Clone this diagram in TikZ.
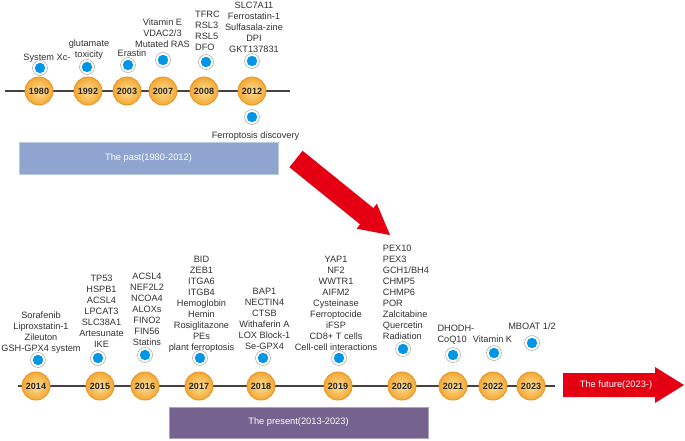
\documentclass[tikz,border=0pt]{standalone}
\usepackage{fontspec}
\setmainfont{Liberation Sans}
\definecolor{circin}{RGB}{253,222,150}
\definecolor{circout}{RGB}{243,168,52}
\definecolor{circedge}{RGB}{232,150,40}
\definecolor{dotblue}{RGB}{0,150,230}
\definecolor{textgray}{RGB}{50,50,50}
\definecolor{linegray}{RGB}{70,65,65}
\definecolor{pastblue}{RGB}{143,165,208}
\definecolor{presentpurple}{RGB}{118,98,143}
\definecolor{arrred}{RGB}{228,0,18}
\newcommand\cstack[1]{\begin{tabular}[b]{@{}c@{}}#1\end{tabular}}
\newcommand\lstack[1]{\begin{tabular}[b]{@{}l@{}}#1\end{tabular}}
\begin{document}
\begin{tikzpicture}[x=1pt,y=-1pt,
  yearnode/.style={circle, minimum size=28pt, inner sep=0pt, draw=circedge, line width=0.9pt,
    inner color=circin, outer color=circout, font=\bfseries\fontsize{9}{10}\selectfont, text=black!85},
  dotnode/.style={circle, minimum size=15pt, inner sep=0pt, draw=black!35, line width=0.5pt, fill=white,
    path picture={\fill[dotblue] (path picture bounding box.center) circle[radius=5.2pt];}},
  lbl/.style={font=\fontsize{9.2}{11}\selectfont, text=textgray, inner sep=0pt, anchor=base},
  lbll/.style={lbl, anchor=base west},
  tline/.style={draw=linegray, line width=1.3pt},
  era/.style={draw=#1!60!white, line width=0.6pt, fill=#1, text=white,
    font=\fontsize{9.3}{11}\selectfont, inner sep=0pt}
]
\useasboundingbox[fill=white] (0,0) rectangle (685,440);

% ---------- top timeline ----------
\coordinate (topL) at (5,91);
\coordinate (topR) at (290,91);
\draw[tline] (topL) -- (topR);

\node[yearnode] (y1980) at (39,91) {1980};
\node[yearnode] (y1992) at (88,91) {1992};
\node[yearnode] (y2003) at (127,91) {2003};
\node[yearnode] (y2007) at (163,91) {2007};
\node[yearnode] (y2008) at (204,91) {2008};
\node[yearnode] (y2012) at (252,91) {2012};

\node[dotnode] (d1980) at (40,68) {};
\node[dotnode] (d1992) at (87,67) {};
\node[dotnode] (d2003) at (128,65) {};
\node[dotnode] (d2007) at (163,60) {};
\node[dotnode] (d2008) at (206,62) {};
\node[dotnode] (d2012) at (252,61) {};
\node[dotnode] (dferro) at (252,117) {};

\node[lbl] (l1980) at (47,60.5) {System Xc-};
\node[lbl] (l1992) at (89,57) {\cstack{glutamate\\toxicity}};
\node[lbl] (l2003) at (132,56) {Erastin};
\node[lbl] (l2007) at (162.5,47) {\cstack{Vitamin E\\VDAC2/3\\Mutated RAS}};
\node[lbll] (l2008) at (195,50.5) {\lstack{TFRC\\RSL3\\RSL5\\DFO}};
\node[lbl] (l2012) at (254,52) {\cstack{SLC7A11\\Ferrostatin-1\\Sulfasala-zine\\DPI\\GKT137831}};
\node[lbl] (lferro) at (255.5,138) {Ferroptosis discovery};

\node[era=pastblue, minimum width=259pt, minimum height=32pt] (past) at (148.5,158) {The past(1980-2012)};

% ---------- diagonal arrow ----------
\fill[arrred] (302.6,150.8) -- (373.35,208.04) -- (376.8,203.76) -- (390.1,235.1)
  -- (356.7,228.64) -- (360.15,224.36) -- (289.4,167.2) -- cycle;

% ---------- bottom timeline ----------
\coordinate (botL) at (18,386);
\coordinate (botR) at (555,386);
\draw[tline] (botL) -- (botR);

\node[yearnode] (y2014) at (36,386) {2014};
\node[yearnode] (y2015) at (100,386) {2015};
\node[yearnode] (y2016) at (145,386) {2016};
\node[yearnode] (y2017) at (199,386) {2017};
\node[yearnode] (y2018) at (261,386) {2018};
\node[yearnode] (y2019) at (338,386) {2019};
\node[yearnode] (y2020) at (402,386) {2020};
\node[yearnode] (y2021) at (453,386) {2021};
\node[yearnode] (y2022) at (493,386) {2022};
\node[yearnode] (y2023) at (531,386) {2023};

\node[dotnode] (d2014) at (38,360) {};
\node[dotnode] (d2015) at (98,358) {};
\node[dotnode] (d2016) at (145,355) {};
\node[dotnode] (d2017) at (200,358) {};
\node[dotnode] (d2018) at (263,358) {};
\node[dotnode] (d2019) at (339,358) {};
\node[dotnode] (d2020) at (403,349) {};
\node[dotnode] (d2021) at (453,355) {};
\node[dotnode] (d2022) at (494,353) {};
\node[dotnode] (d2023) at (532,343) {};

\node[lbl] (l2014) at (41,351) {\cstack{Sorafenib\\Liproxstatin-1\\Zileuton\\GSH-GPX4 system}};
\node[lbl] (l2015) at (101.5,347.5) {\cstack{TP53\\HSPB1\\ACSL4\\LPCAT3\\SLC38A1\\Artesunate\\IKE}};
\node[lbl] (l2016) at (147,345) {\cstack{ACSL4\\NEF2L2\\NCOA4\\ALOXs\\FINO2\\FIN56\\Statins}};
\node[lbl] (l2017) at (201.5,350) {\cstack{BID\\ZEB1\\ITGA6\\ITGB4\\Hemoglobin\\Hemin\\Rosiglitazone\\PEs\\plant ferroptosis}};
\node[lbl] (l2018) at (264.5,349) {\cstack{BAP1\\NECTIN4\\CTSB\\Withaferin A\\LOX Block-1\\Se-GPX4}};
\node[lbl] (l2019) at (336,350) {\cstack{YAP1\\NF2\\WWTR1\\AIFM2\\Cysteinase\\Ferroptocide\\iFSP\\CD8+ T cells\\Cell-cell interactions}};
\node[lbll] (l2020) at (382.7,339.5) {\lstack{PEX10\\PEX3\\GCH1/BH4\\CHMP5\\CHMP6\\POR\\Zalcitabine\\Quercetin\\Radiation}};
\node[lbll] (l2021) at (437.3,342.5) {\lstack{DHODH-\\CoQ10}};
\node[lbl] (l2022) at (492.5,342.5) {Vitamin K};
\node[lbl] (l2023) at (532,329.5) {MBOAT 1/2};

\node[era=presentpurple, minimum width=259pt, minimum height=31pt] (present) at (298.5,422.5) {The present(2013-2023)};

% ---------- future arrow ----------
\fill[arrred] (563,373) -- (655,373) -- (655,367) -- (684,385) -- (655,403) -- (655,397) -- (563,397) -- cycle;
\node[font=\fontsize{9.3}{11}\selectfont, text=white, inner sep=0pt] (future) at (616,385) {The future(2023-)};
\end{tikzpicture}
\end{document}
